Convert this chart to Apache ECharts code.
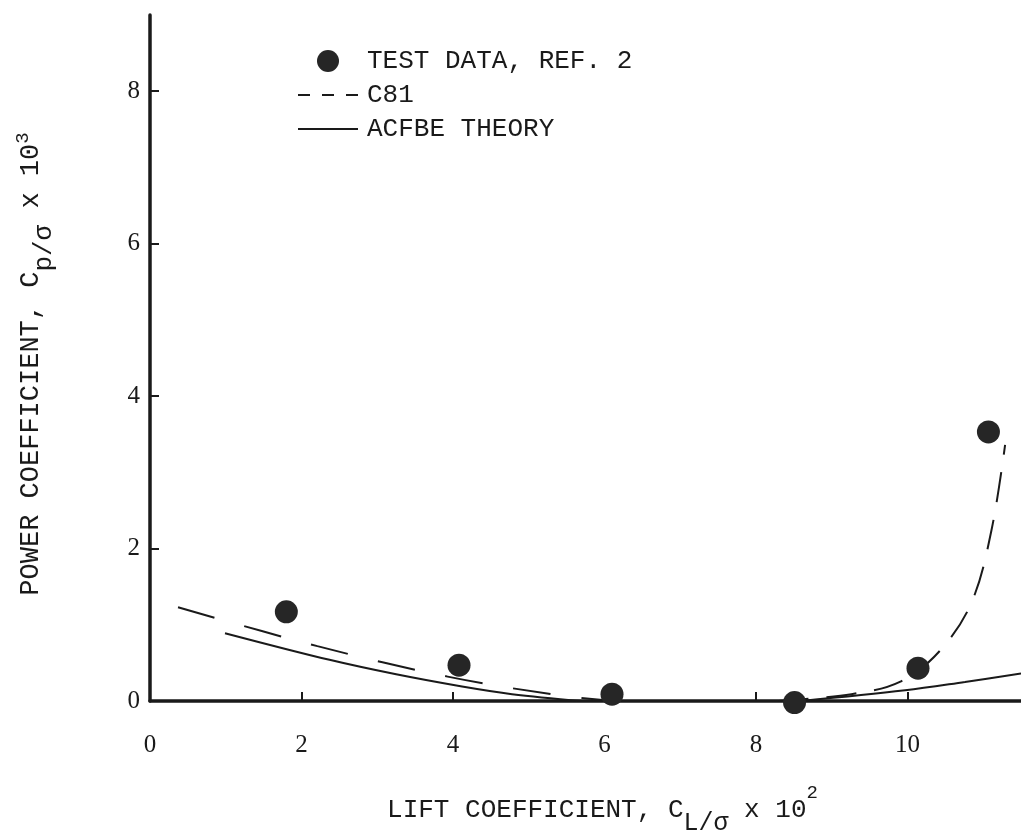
<!DOCTYPE html>
<html>
<head>
<meta charset="utf-8" />
<script src="https://cdn.jsdelivr.net/npm/echarts@6/dist/echarts.min.js"></script>
<style>
  html, body { margin: 0; padding: 0; background: #fff; }
  #chart { width: 1021px; height: 838px; }
</style>
</head>
<body>
<div id="chart"></div>
<script>
// 试验数据点 (x = CL/σ ×10², y = Cp/σ ×10³)
const testData = [
  [1.80, 1.17], [4.08, 0.47], [6.10, 0.09],
  [8.51, -0.02], [10.14, 0.43], [11.07, 3.53],
];
// C81 曲线，左右两段
const c81Left = [
  [0.37, 1.23], [2.21, 0.72], [3.93, 0.32], [5.44, 0.07], [6.20, 0],
];
const c81Right = [
  [8.30, 0], [9.26, 0.09], [9.90, 0.25], [10.43, 0.66],
  [10.85, 1.30], [11.11, 2.24], [11.29, 3.36],
];
// ACFBE 理论曲线
const acfbeLeft = [
  [0.99, 0.89], [2.37, 0.54], [3.25, 0.35], [4.12, 0.19], [4.78, 0.09], [5.70, 0],
];
const acfbeRight = [
  [8.60, 0], [9.97, 0.14], [10.76, 0.25], [11.50, 0.36],
];
const xTicks = [2, 4, 6, 8, 10];
const xLabels = [0, 2, 4, 6, 8, 10];
const yTicks = [2, 4, 6, 8];
const yLabels = [0, 2, 4, 6, 8];

const mono = "Liberation Mono";
const serif = "Liberation Serif";
const ink = "#1a1a1a";

const chart = echarts.init(document.getElementById("chart"));

function nameRich(size, supPad, subPad, mainPad) {
  return {
    m: { fontFamily: mono, fontSize: size, lineHeight: size + 2, color: ink, verticalAlign: "top", padding: [mainPad, 0, 0, 0] },
    sub: { fontFamily: mono, fontSize: size - 1, lineHeight: size, color: ink, verticalAlign: "top", padding: [subPad, 0, 0, 0] },
    sup: { fontFamily: mono, fontSize: 19, lineHeight: 20, color: ink, verticalAlign: "top", padding: [supPad, 0, 0, 0] },
  };
}

// 图例中线型条目不显示圆点
const hideSymbol = { opacity: 0, borderWidth: 0 };

const option = {
  animation: false,
  backgroundColor: "#fff",
  grid: { left: 150, right: 0, top: 15, bottom: 137, outerBoundsMode: "none", containLabel: false },
  legend: {
    orient: "vertical",
    left: 292,
    top: 43,
    itemWidth: 60,
    itemHeight: 22,
    itemGap: 8,
    textStyle: { fontFamily: mono, fontSize: 26, lineHeight: 26, color: ink, padding: [0, 0, 0, 4] },
    data: [
      { name: "TEST DATA, REF. 2", icon: "circle" },
      { name: "C81", itemStyle: hideSymbol, lineStyle: { type: [12, 12], width: 2 } },
      { name: "ACFBE THEORY", itemStyle: hideSymbol, lineStyle: { width: 2 } },
    ],
  },
  xAxis: {
    type: "value",
    min: 0,
    max: 11.5,
    interval: 2,
    name: "{m|LIFT COEFFICIENT, C}{sub|L/σ}{m| x 10}{sup|2}",
    nameLocation: "middle",
    nameGap: 82,
    nameTextStyle: { padding: [0, 0, 0, 34], rich: nameRich(26, 0, 28, 14) },
    axisLine: { show: true, lineStyle: { color: ink, width: 3.5 } },
    axisTick: { show: true, inside: true, length: 9, customValues: xTicks, lineStyle: { color: ink, width: 2 } },
    axisLabel: { margin: 32, customValues: xLabels, fontFamily: serif, fontSize: 25, color: ink },
    splitLine: { show: false },
  },
  yAxis: {
    type: "value",
    min: 0,
    max: 9,
    interval: 2,
    name: "{m|POWER COEFFICIENT, C}{sub|p/σ}{m| x 10}{sup|3}",
    nameLocation: "middle",
    nameRotate: 90,
    nameGap: 110,
    nameTextStyle: { padding: [0, 12, 0, 0], rich: nameRich(27, 2, 20, 6) },
    axisLine: { show: true, lineStyle: { color: ink, width: 3.5 } },
    axisTick: { show: true, inside: true, length: 9, customValues: yTicks, lineStyle: { color: ink, width: 2 } },
    axisLabel: { margin: 10, customValues: yLabels, fontFamily: serif, fontSize: 25, color: ink },
    splitLine: { show: false },
  },
  series: [
    {
      name: "TEST DATA, REF. 2",
      type: "scatter",
      symbol: "circle",
      symbolSize: 23,
      clip: false,
      z: 5,
      itemStyle: { color: "#262626", opacity: 1 },
      data: testData,
    },
    {
      name: "C81",
      type: "line",
      symbol: "none",
      smooth: 0.35,
      lineStyle: { color: ink, width: 2, type: [38, 31] },
      itemStyle: { color: ink },
      data: c81Left,
    },
    {
      name: "C81",
      type: "line",
      symbol: "none",
      smooth: 0.35,
      lineStyle: { color: ink, width: 2, type: [30, 18] },
      itemStyle: { color: ink },
      data: c81Right,
    },
    {
      name: "ACFBE THEORY",
      type: "line",
      symbol: "none",
      smooth: 0.35,
      lineStyle: { color: ink, width: 2 },
      itemStyle: { color: ink },
      data: acfbeLeft,
    },
    {
      name: "ACFBE THEORY",
      type: "line",
      symbol: "none",
      smooth: 0.35,
      lineStyle: { color: ink, width: 2 },
      itemStyle: { color: ink },
      data: acfbeRight,
    },
  ],
};

chart.setOption(option);
</script>
</body>
</html>
